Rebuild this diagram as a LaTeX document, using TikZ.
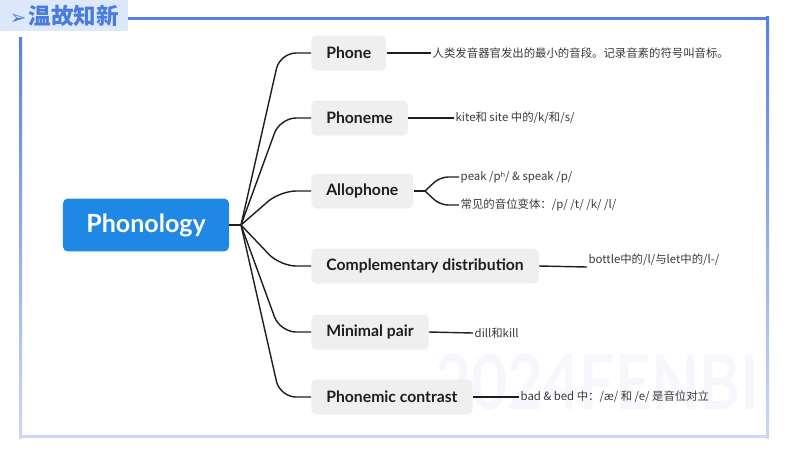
\documentclass[tikz,border=0pt]{standalone}
\usepackage{fontspec}
\usepackage{tikz}
\usetikzlibrary{positioning}
\newfontfamily\latofont{Lato}
\newfontfamily\cjkfont{Noto Sans CJK SC}
\newfontfamily\ipafont{Noto Sans}
\newfontfamily\symfont{DejaVu Sans}
\definecolor{rootblue}{HTML}{1F88E5}
\definecolor{boxgray}{HTML}{EFEFEF}
\definecolor{ink}{HTML}{1E1E1E}
\definecolor{leafgray}{HTML}{3A3A3A}
\definecolor{framedark}{HTML}{5680E8}
\definecolor{framelight}{HTML}{CBD9F7}
\definecolor{headfill}{HTML}{DDE9FB}
\definecolor{headtext}{HTML}{4A7BDF}
\definecolor{mark}{HTML}{F5F7FD}

\begin{document}
\begin{tikzpicture}[
  x=0.025cm, y=-0.025cm,
  root/.style={rectangle, rounded corners=1.2mm, fill=rootblue, text=white, font=\latofont\bfseries\fontsize{17.8}{20}\selectfont, minimum width=4.15cm, minimum height=1.32cm},
  topic/.style={rectangle, rounded corners=1.2mm, fill=boxgray, text=ink, font=\latofont\bfseries\fontsize{11.2}{13}\selectfont, minimum height=0.875cm, inner xsep=0.375cm, anchor=west},
  leaf/.style={font=\cjkfont\fontsize{8.1}{9}\selectfont, text=leafgray, inner sep=1pt, anchor=west},
  branch/.style={draw=ink, line width=1pt, rounded corners=0.4cm},
  link/.style={draw=ink, line width=1pt}
]
  \useasboundingbox (0,0) rectangle (800,450);
  % watermark
  \node[text=mark, font=\latofont\bfseries\fontsize{54}{56}\selectfont, xscale=0.82] (wm) at (597,382) {2024FENBI};

  % frame and title
  \node[anchor=north west, fill=headfill, text=headtext, minimum width=3.2cm, minimum height=0.775cm, inner sep=0pt] (title) at (0,0)
    {{\symfont\fontsize{14}{16}\selectfont ➢}\,{\cjkfont\bfseries\fontsize{16}{18}\selectfont 温故知新}};
  \fill[framedark] (128,16.5) rectangle (769,19.5);
  \shade[top color=framedark, bottom color=framelight] (766,16.5) rectangle (769,438);
  \shade[top color=framedark, bottom color=framelight] (19,37) rectangle (22,438);
  \fill[framelight] (19,435) rectangle (769,438);

  % root and topics
  \node[root] (root) at (146,225) {Phonology};
  \coordinate (hub) at (241,225);
  \node[topic] (phone) at (311,53) {Phone};
  \node[topic] (phoneme) at (311,118) {Phoneme};
  \node[topic] (allo) at (311,191) {Allophone};
  \node[topic] (comp) at (311,266) {Complementary distribution};
  \node[topic] (pair) at (311,332) {Minimal pair};
  \node[topic] (contrast) at (311,397) {Phonemic contrast};

  \draw[link] (root.east) -- (hub);
  \foreach \t in {phone, phoneme, allo, comp, pair, contrast}
    \draw[branch] (hub) -- (280,0 |- \t.west) -- (\t.west);

  % leaves
  \node[leaf] (phone-leaf) at (431,53) {人类发音器官发出的最小的音段。记录音素的符号叫音标。};
  \node[leaf] (phoneme-leaf) at (454,118) {kite和 site 中的/k/和/s/};
  \coordinate (allo-fork) at (425,191);
  \node[leaf] (allo-leaf1) at (459,177) {peak /p{\ipafont ʰ}/ \& speak /p/};
  \node[leaf] (allo-leaf2) at (459,205) {常见的音位变体：/p/ /t/ /k/ /l/};
  \coordinate (comp-end) at (587,267);
  \node[leaf, anchor=south west] (comp-leaf) at (comp-end) {bottle中的/l/与let中的/l-/};
  \node[leaf] (pair-leaf) at (473,333) {dill和kill};
  \node[leaf] (contrast-leaf) at (519,397) {bad \& bed 中：/æ/ 和 /e/ 是音位对立};

  \draw[link] (phone.east) -- (phone-leaf.west);
  \draw[link] (phoneme.east) -- (phoneme-leaf.west);
  \draw[link] (allo.east) -- (allo-fork);
  \draw[link, rounded corners=0.2cm] (allo-fork) -- (440,0 |- allo-leaf1.west) -- (allo-leaf1.west);
  \draw[link, rounded corners=0.2cm] (allo-fork) -- (440,0 |- allo-leaf2.west) -- (allo-leaf2.west);
  \draw[link] (comp.east) -- (comp-end);
  \draw[link] (pair.east) -- (pair-leaf.west);
  \draw[link] (contrast.east) -- (contrast-leaf.west);
\end{tikzpicture}
\end{document}
